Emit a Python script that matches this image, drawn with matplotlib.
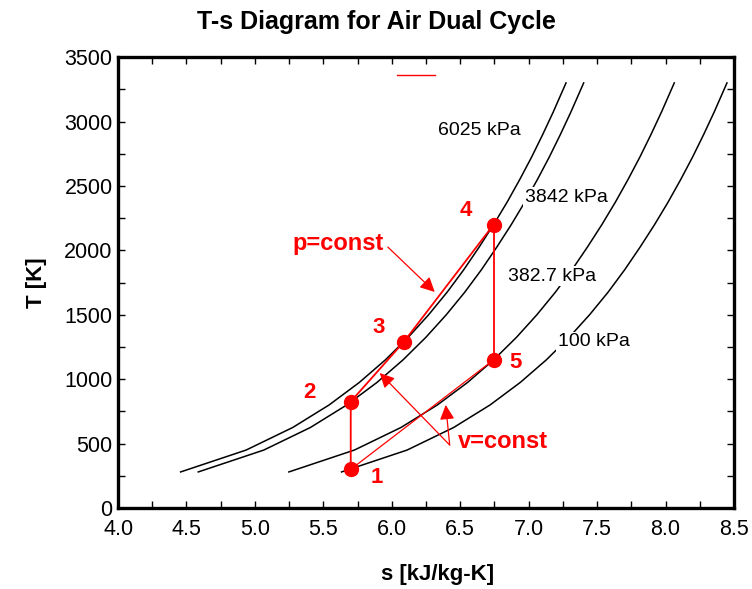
import matplotlib
matplotlib.use("Agg")
import matplotlib.pyplot as plt
from matplotlib.ticker import MultipleLocator

plt.rcParams['font.family'] = ['Liberation Sans', 'DejaVu Sans']

# isobar polylines, s [kJ/kg-K] vs T [K]
T_iso = [280, 450, 625, 800, 975, 1150, 1325, 1500, 1675, 1850, 2025, 2200,
         2375, 2550, 2725, 2900, 3075, 3300]
s_6025 = [4.457, 4.936, 5.276, 5.542, 5.763, 5.953, 6.120, 6.269, 6.404, 6.526,
          6.638, 6.744, 6.843, 6.935, 7.022, 7.103, 7.180, 7.273]
s_3842 = [4.586, 5.065, 5.405, 5.671, 5.892, 6.082, 6.249, 6.398, 6.533, 6.655,
          6.767, 6.873, 6.972, 7.064, 7.151, 7.232, 7.309, 7.402]
s_3827 = [5.248, 5.727, 6.067, 6.333, 6.554, 6.744, 6.911, 7.060, 7.195, 7.317,
          7.429, 7.535, 7.634, 7.726, 7.813, 7.894, 7.971, 8.064]
s_100 = [5.633, 6.112, 6.452, 6.718, 6.939, 7.129, 7.296, 7.445, 7.580, 7.702,
         7.814, 7.920, 8.019, 8.111, 8.198, 8.279, 8.356, 8.449]
iso_labels = ["6025 kPa", "3842 kPa", "382.7 kPa", "100 kPa"]
iso_label_s = [6.336, 6.971, 6.847, 7.212]
iso_label_T = [2934, 2414, 1801, 1289]

# cycle states 1..5
state_names = ["1", "2", "3", "4", "5"]
s_state = [5.70, 5.70, 6.088, 6.744, 6.744]
T_state = [300, 826, 1290, 2200, 1150]
state_label_s = [5.89, 5.401, 5.905, 6.54, 6.905]
state_label_T = [233, 893, 1405, 2313, 1133]

# stray red legend stub at the top
stub_s = [6.036, 6.314]
stub_T = [3361, 3361]

fig = plt.figure(figsize=(7.52, 5.89), dpi=100)
ax = fig.add_axes([0.157, 0.1375, 0.819, 0.7655])

for s in [s_6025, s_3842, s_3827, s_100]:
    ax.plot(s, T_iso, "-k", linewidth=1.1, zorder=2)

for name, x, y in zip(iso_labels, iso_label_s, iso_label_T):
    ax.text(x, y, name, fontsize=14, va="center", ha="left", zorder=3,
            bbox=dict(facecolor="white", edgecolor="none", pad=1.0))

red = "#ff0000"
# 1-2 isentropic, 2-3 v=const, 3-4 p=const, 4-5 isentropic
ax.plot(s_state[:4], T_state[:4], "-", color=red, linewidth=1.3, zorder=4)
ax.plot(s_state[3:5], T_state[3:5], "-", color=red, linewidth=1.3, zorder=4)
# 5-1 v=const
ax.plot([s_state[4], s_state[0]], [T_state[4], T_state[0]], "-", color=red,
        linewidth=0.9, zorder=4)
ax.plot(s_state, T_state, "o", color=red, markersize=10, zorder=5)
for name, x, y in zip(state_names, state_label_s, state_label_T):
    ax.text(x, y, name, color=red, fontsize=16, fontweight="bold",
            ha="center", va="center", zorder=6)

ax.plot(stub_s, stub_T, "-", color=red, linewidth=1.0)

arrow = dict(arrowstyle="-|>", color=red, linewidth=0.9, mutation_scale=22,
             shrinkA=0, shrinkB=0)
ax.text(5.277, 2057, "p=const", color=red, fontsize=17, fontweight="bold",
        va="center", ha="left")
ax.annotate("", xy=(6.314, 1677), xytext=(5.971, 2026), arrowprops=arrow)
ax.text(6.482, 520, "v=const", color=red, fontsize=17, fontweight="bold",
        va="center", ha="left")
ax.annotate("", xy=(5.912, 1048), xytext=(6.423, 489), arrowprops=arrow)
ax.annotate("", xy=(6.394, 800), xytext=(6.423, 489), arrowprops=arrow)

ax.set_xlim(4.0, 8.5)
ax.set_ylim(0, 3500)
ax.xaxis.set_major_locator(MultipleLocator(0.5))
ax.xaxis.set_minor_locator(MultipleLocator(0.25))
ax.yaxis.set_major_locator(MultipleLocator(500))
ax.yaxis.set_minor_locator(MultipleLocator(250))
ax.xaxis.set_major_formatter(plt.FormatStrFormatter("%.1f"))
ax.tick_params(which="both", direction="in", top=True, right=True,
               length=5, width=1, labelsize=15.5)
ax.tick_params(axis="x", pad=8)
ax.tick_params(axis="y", pad=4)
for sp in ax.spines.values():
    sp.set_linewidth(2.4)

ax.set_xlabel("s [kJ/kg-K]", fontsize=16, fontweight="bold")
ax.xaxis.set_label_coords(0.518, -0.125)
ax.set_ylabel("T [K]", fontsize=16, fontweight="bold", labelpad=12)
fig.text(0.5, 0.962, "T-s Diagram for Air Dual Cycle", fontsize=18,
         fontweight="bold", ha="center", va="center")

fig.savefig("out.png", dpi=100)
